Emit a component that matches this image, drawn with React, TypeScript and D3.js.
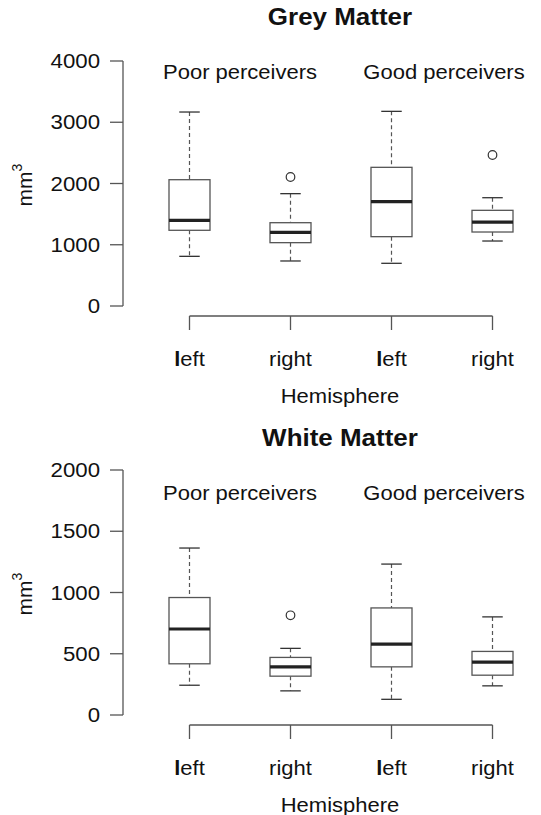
import React from 'react';
import * as d3 from 'd3';

// groups / categories
const groupLabels = ['Poor perceivers', 'Good perceivers'];
const sideLabels = ['left', 'right', 'left', 'right'];
const boxKeys = ['poor-left', 'poor-right', 'good-left', 'good-right'];

// [low whisker, Q1, median, Q3, high whisker] in mm3
const greyStats = [
  [811, 1236, 1399, 2062, 3167],
  [735, 1034, 1203, 1360, 1834],
  [697, 1132, 1703, 2264, 3178],
  [1061, 1208, 1371, 1562, 1768],
];
const greyOutliers = [[], [2106], [], [2465]];
const greyTicks = [0, 1000, 2000, 3000, 4000];

const whiteStats = [
  [243, 418, 702, 959, 1363],
  [197, 317, 393, 470, 544],
  [128, 393, 579, 874, 1232],
  [238, 325, 431, 519, 801],
];
const whiteOutliers = [[], [814], [], []];
const whiteTicks = [0, 500, 1000, 1500, 2000];

const FONT = '"Liberation Sans", Arial, Helvetica, sans-serif';
const SX = 1.1; // source picture is a little wider than tall

const T: React.FC<{ x: number; y: number; size?: number; anchor?: string; bold?: boolean; sx?: number; children: React.ReactNode }> = ({
  x, y, size = 20, anchor = 'middle', bold = false, sx = SX, children,
}) => (
  <text
    transform={`translate(${x},${y}) scale(${sx},1)`}
    fontSize={size}
    fontWeight={bold ? 'bold' : 'normal'}
    textAnchor={anchor}
    fill="#111"
    fontFamily={FONT}
  >
    {children}
  </text>
);

interface PanelProps {
  top: number;
  title: string;
  titleY: number;
  groupY: number;
  stats: number[][];
  outliers: number[][];
  ticks: number[];
}

const Panel: React.FC<PanelProps> = ({ top, title, titleY, groupY, stats, outliers, ticks }) => {
  const y = d3.scaleLinear().domain([0, ticks[ticks.length - 1]]).range([306, 61]);
  const x = d3.scalePoint<string>().domain(boxKeys).range([189.5, 492.5]);
  const axisX = 123;
  const boxW = 41;
  const stroke = '#555';

  return (
    <g transform={`translate(0,${top})`}>
      <T x={340} y={titleY} size={24.5} bold sx={1.06}>{title}</T>

      {/* y axis */}
      <line x1={axisX} x2={axisX} y1={y(ticks[0])} y2={y(ticks[ticks.length - 1])} stroke={stroke} strokeWidth={1.3} />
      {ticks.map(t => (
        <g key={t}>
          <line x1={axisX - 13} x2={axisX} y1={y(t)} y2={y(t)} stroke={stroke} strokeWidth={1.3} />
          <T x={100} y={y(t) + 7} size={19.5} anchor="end" sx={1.14}>{t}</T>
        </g>
      ))}
      <text
        transform="translate(32,185) rotate(-90)"
        fontSize={21}
        textAnchor="middle"
        fill="#111"
        fontFamily={FONT}
      >
        mm<tspan dy={-10} fontSize={14}>3</tspan>
      </text>

      {/* x axis */}
      <line x1={x(boxKeys[0])} x2={x(boxKeys[3])} y1={316} y2={316} stroke={stroke} strokeWidth={1.3} />
      {boxKeys.map((k, i) => (
        <g key={k}>
          <line x1={x(k)} x2={x(k)} y1={316} y2={330} stroke={stroke} strokeWidth={1.3} />
          {sideLabels[i] === 'left' ? (
            <T x={x(k)!} y={366}>
              <tspan fontWeight="bold">l</tspan>eft
            </T>
          ) : (
            <T x={x(k)!} y={366}>{sideLabels[i]}</T>
          )}
        </g>
      ))}
      <T x={340} y={403}>Hemisphere</T>

      {groupLabels.map((g, i) => (
        <T key={g} x={(x(boxKeys[i * 2])! + x(boxKeys[i * 2 + 1])!) / 2 + (i === 1 ? 2 : 0)} y={groupY}>{g}</T>
      ))}

      {/* boxes */}
      {stats.map((s, i) => {
        const cx = x(boxKeys[i])!;
        const [lo, q1, med, q3, hi] = s;
        return (
          <g key={boxKeys[i]}>
            <line x1={cx} x2={cx} y1={y(hi)} y2={y(q3)} stroke={stroke} strokeWidth={1.2} strokeDasharray="4,3" />
            <line x1={cx} x2={cx} y1={y(q1)} y2={y(lo)} stroke={stroke} strokeWidth={1.2} strokeDasharray="4,3" />
            <line x1={cx - boxW / 4} x2={cx + boxW / 4} y1={y(hi)} y2={y(hi)} stroke="#333" strokeWidth={1.3} />
            <line x1={cx - boxW / 4} x2={cx + boxW / 4} y1={y(lo)} y2={y(lo)} stroke="#333" strokeWidth={1.3} />
            <rect x={cx - boxW / 2} y={y(q3)} width={boxW} height={y(q1) - y(q3)} fill="white" stroke={stroke} strokeWidth={1.3} />
            <line x1={cx - boxW / 2} x2={cx + boxW / 2} y1={y(med)} y2={y(med)} stroke="#222" strokeWidth={3.2} />
            {outliers[i].map(o => (
              <circle key={o} cx={cx} cy={y(o)} r={4.3} fill="none" stroke="#333" strokeWidth={1.2} />
            ))}
          </g>
        );
      })}
    </g>
  );
};

export default function App() {
  return (
    <svg
      width={541}
      height={815}
      style={{ position: 'absolute', left: 0, top: 0, display: 'block', background: 'white' }}
    >
      <Panel top={0} title="Grey Matter" titleY={25} groupY={79} stats={greyStats} outliers={greyOutliers} ticks={greyTicks} />
      <Panel top={409} title="White Matter" titleY={37} groupY={91} stats={whiteStats} outliers={whiteOutliers} ticks={whiteTicks} />
    </svg>
  );
}
